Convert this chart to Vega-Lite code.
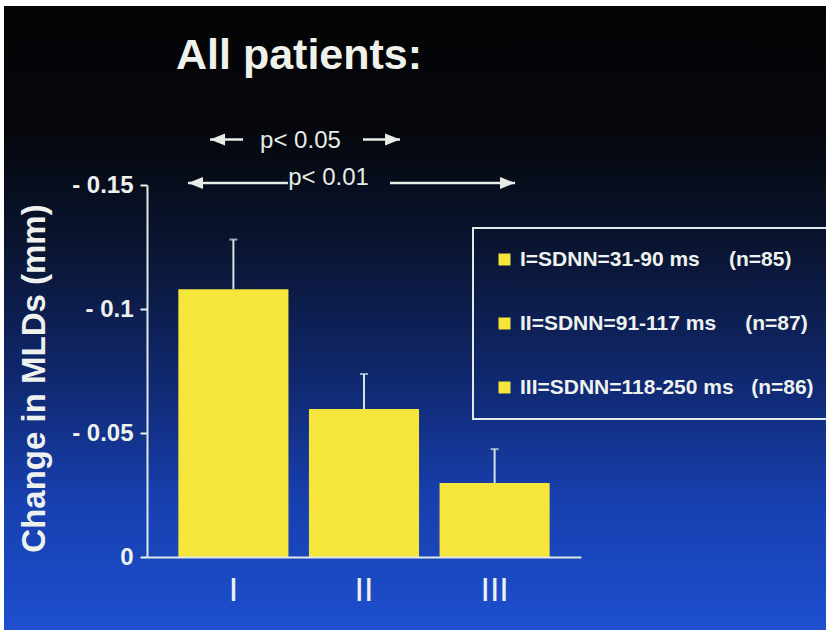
{
  "$schema": "https://vega.github.io/schema/vega-lite/v6.json",
  "width": 822,
  "height": 624,
  "autosize": {"type": "none"},
  "padding": {"left": 4, "top": 6, "right": 0, "bottom": 0},
  "background": "white",
  "config": {
    "view": {"stroke": null},
    "font": "Liberation Sans",
    "legend": {"strokeWidth": 2}
  },
  "title": {
    "text": "All patients:",
    "anchor": "start",
    "frame": "group",
    "orient": "top",
    "offset": 0,
    "dx": 172,
    "dy": 106,
    "baseline": "alphabetic",
    "font": "Liberation Sans",
    "fontSize": 43,
    "fontWeight": "bold",
    "color": "#eef2ea"
  },
  "datasets": {
    "groups": [
      {"group": "I", "legend": "I=SDNN=31-90 ms\u00a0\u00a0\u00a0\u00a0\u00a0(n=85)", "value": 0.108, "upper": 0.128},
      {"group": "II", "legend": "II=SDNN=91-117 ms\u00a0\u00a0\u00a0\u00a0\u00a0(n=87)", "value": 0.0597, "upper": 0.0738},
      {"group": "III", "legend": "III=SDNN=118-250 ms\u00a0\u00a0\u00a0(n=86)", "value": 0.0298, "upper": 0.0435}
    ],
    "pvalues": [
      {"label": "p< 0.05", "arrow_y": 0.1683, "text_y": 0.1649, "left_tip": 0.824, "left_end": 1.077, "text_x": 1.517, "right_start": 1.996, "right_tip": 2.28},
      {"label": "p< 0.01", "arrow_y": 0.1508, "text_y": 0.15, "left_tip": 0.655, "left_end": 1.421, "text_x": 1.732, "right_start": 2.203, "right_tip": 3.161}
    ]
  },
  "layer": [
    {
      "data": {"values": [{"panel": "slide"}]},
      "mark": {
        "type": "rect",
        "fill": {
          "gradient": "linear",
          "x1": 0, "y1": 0, "x2": 0, "y2": 1,
          "stops": [
            {"offset": 0, "color": "#030405"},
            {"offset": 0.2, "color": "#05070c"},
            {"offset": 0.39, "color": "#0a1532"},
            {"offset": 0.6, "color": "#10286f"},
            {"offset": 0.79, "color": "#173fae"},
            {"offset": 1, "color": "#1d4fcf"}
          ]
        }
      },
      "encoding": {}
    },
    {
      "data": {"name": "groups"},
      "encoding": {
        "x": {
          "field": "group",
          "type": "nominal",
          "sort": ["I", "II", "III"],
          "scale": {"range": [143, 577], "paddingInner": 0.157, "paddingOuter": 0.24},
          "axis": {
            "orient": "bottom",
            "offset": -73,
            "zindex": 1,
            "ticks": false,
            "labelAngle": 0,
            "labelFont": "Liberation Sans",
            "labelFontSize": 34,
            "labelColor": "#eef2ee",
            "labelPadding": 16,
            "domainColor": "#dfe9ea",
            "domainWidth": 2,
            "title": null
          }
        },
        "y": {
          "field": "value",
          "type": "quantitative",
          "scale": {"domain": [0, 0.15], "range": [551, 179], "nice": false},
          "axis": {
            "orient": "left",
            "offset": -143,
            "zindex": 1,
            "values": [0, 0.05, 0.1, 0.15],
            "labelExpr": "datum.value == 0 ? '0' : '- ' + format(datum.value, '.2~f')",
            "labelFont": "Liberation Sans",
            "labelFontWeight": "bold",
            "labelFontSize": 24,
            "labelColor": "#eef2ee",
            "labelPadding": 7,
            "tickColor": "#eef2ee",
            "tickWidth": 2,
            "tickSize": 7,
            "domainColor": "#dfe9ea",
            "domainWidth": 2,
            "grid": false,
            "title": "Change in MLDs (mm)",
            "titleFont": "Liberation Sans",
            "titleFontWeight": "bold",
            "titleFontSize": 33,
            "titleColor": "#eef2ee",
            "titleX": -113,
            "titleY": 372,
            "titleAngle": -90,
            "titleAlign": "center",
            "titleBaseline": "middle"
          }
        }
      },
      "layer": [
        {
          "mark": {"type": "bar"},
          "encoding": {
            "color": {
              "field": "legend",
              "type": "nominal",
              "scale": {"range": ["#f6e53a", "#f6e53a", "#f6e53a"]},
              "legend": {
                "orient": "none",
                "legendX": 469,
                "legendY": 222,
                "title": null,
                "symbolType": "square",
                "symbolSize": 144,
                "symbolStrokeWidth": 0,
                "labelFont": "Liberation Sans",
                "labelFontWeight": "bold",
                "labelFontSize": 21,
                "labelColor": "#eef2ee",
                "labelOffset": 5,
                "labelLimit": 500,
                "rowPadding": 42,
                "padding": 21,
                "strokeColor": "#dfe9ea"
              }
            }
          }
        },
        {
          "mark": {"type": "rule", "color": "#d3e4e6", "strokeWidth": 2},
          "encoding": {
            "y2": {"field": "upper"}
          }
        }
      ]
    },
    {
      "data": {"name": "groups"},
      "mark": {"type": "tick", "color": "#d3e4e6", "thickness": 2, "size": 8},
      "encoding": {
        "x": {
          "field": "group",
          "type": "nominal",
          "sort": ["I", "II", "III"],
          "scale": {"range": [143, 577], "paddingInner": 0.157, "paddingOuter": 0.24},
          "axis": null
        },
        "y": {"field": "upper", "type": "quantitative", "scale": {"domain": [0, 0.15], "range": [551, 179], "nice": false}, "axis": null}
      }
    },
    {
      "data": {"name": "pvalues"},
      "layer": [
        {
          "mark": {"type": "rule", "color": "#e6ece6", "strokeWidth": 2.5},
          "encoding": {
            "x": {"field": "left_tip", "type": "quantitative", "scale": {"domain": [0, 3], "range": [98.5, 490], "nice": false, "zero": false}, "axis": null},
            "x2": {"field": "left_end"},
            "y": {"field": "arrow_y", "type": "quantitative", "scale": {"domain": [0, 0.15], "range": [551, 179], "nice": false}, "axis": null}
          }
        },
        {
          "mark": {"type": "rule", "color": "#e6ece6", "strokeWidth": 2.5},
          "encoding": {
            "x": {"field": "right_start", "type": "quantitative", "scale": {"domain": [0, 3], "range": [98.5, 490], "nice": false, "zero": false}, "axis": null},
            "x2": {"field": "right_tip"},
            "y": {"field": "arrow_y", "type": "quantitative", "scale": {"domain": [0, 0.15], "range": [551, 179], "nice": false}, "axis": null}
          }
        },
        {
          "mark": {"type": "point", "shape": "M0,0L2,-0.8L2,0.8Z", "filled": true, "color": "#e6ece6", "opacity": 1, "size": 225, "strokeWidth": 0},
          "encoding": {
            "x": {"field": "left_tip", "type": "quantitative", "scale": {"domain": [0, 3], "range": [98.5, 490], "nice": false, "zero": false}, "axis": null},
            "y": {"field": "arrow_y", "type": "quantitative", "scale": {"domain": [0, 0.15], "range": [551, 179], "nice": false}, "axis": null}
          }
        },
        {
          "mark": {"type": "point", "shape": "M0,0L-2,-0.8L-2,0.8Z", "filled": true, "color": "#e6ece6", "opacity": 1, "size": 225, "strokeWidth": 0},
          "encoding": {
            "x": {"field": "right_tip", "type": "quantitative", "scale": {"domain": [0, 3], "range": [98.5, 490], "nice": false, "zero": false}, "axis": null},
            "y": {"field": "arrow_y", "type": "quantitative", "scale": {"domain": [0, 0.15], "range": [551, 179], "nice": false}, "axis": null}
          }
        },
        {
          "mark": {"type": "text", "font": "Liberation Sans", "fontSize": 24, "color": "#e6ece6", "baseline": "alphabetic", "align": "center"},
          "encoding": {
            "x": {"field": "text_x", "type": "quantitative", "scale": {"domain": [0, 3], "range": [98.5, 490], "nice": false, "zero": false}, "axis": null},
            "y": {"field": "text_y", "type": "quantitative", "scale": {"domain": [0, 0.15], "range": [551, 179], "nice": false}, "axis": null},
            "text": {"field": "label"}
          }
        }
      ]
    }
  ],
  "resolve": {"scale": {"x": "independent", "y": "independent"}}
}
